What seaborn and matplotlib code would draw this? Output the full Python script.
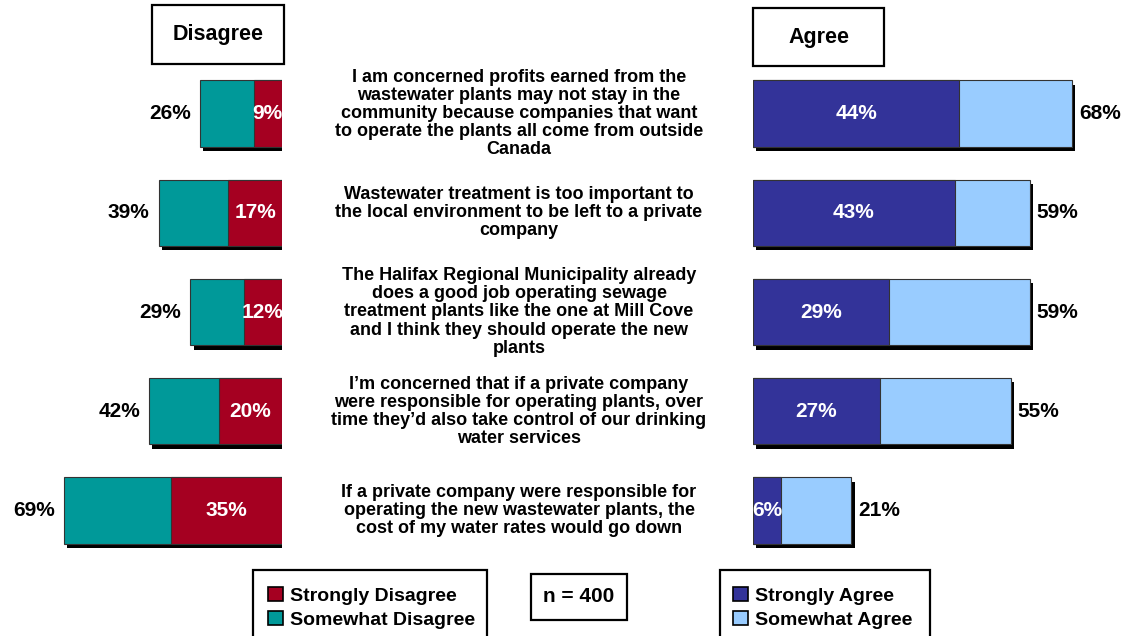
import matplotlib

matplotlib.use("Agg")
import matplotlib.pyplot as plt
import matplotlib.patheffects as path_effects
from matplotlib.patches import Patch, Rectangle
from matplotlib.transforms import blended_transform_factory
import seaborn as sns
import pandas as pd

row_ids = ["profits", "environment", "hrm", "control", "rates"]
statements = [
    "I am concerned profits earned from the\nwastewater plants may not stay in the\n"
    "community because companies that want\nto operate the plants all come from outside\nCanada",
    "Wastewater treatment is too important to\nthe local environment to be left to a private\ncompany",
    "The Halifax Regional Municipality already\ndoes a good job operating sewage\n"
    "treatment plants like the one at Mill Cove\nand I think they should operate the new\nplants",
    "I\u2019m concerned that if a private company\nwere responsible for operating plants, over\n"
    "time they\u2019d also take control of our drinking\nwater services",
    "If a private company were responsible for\noperating the new wastewater plants, the\n"
    "cost of my water rates would go down",
]
disagree_total = [26, 39, 29, 42, 69]
disagree_strong = [9, 17, 12, 20, 35]
agree_total = [68, 59, 59, 55, 21]
agree_strong = [44, 43, 29, 27, 6]

color_rojo = "#A50021"
color_verde = "#009999"
color_azul = "#333399"
color_celeste = "#99CCFF"

sns.set_theme(style="white")
plt.rcParams["font.family"] = ["Liberation Sans", "DejaVu Sans"]
plt.rcParams["font.weight"] = "bold"
plt.rcParams["text.color"] = "black"

df = pd.DataFrame(
    {
        "fila": row_ids,
        "dis_total": disagree_total,
        "dis_fuerte": disagree_strong,
        "ag_total": agree_total,
        "ag_fuerte": agree_strong,
    }
)

W, H = 1130, 636
fig = plt.figure(figsize=(W / 100, H / 100), dpi=100)
fig.patch.set_facecolor("white")


def caja_px(x0, x1, y0, y1):
    return [x0 / W, 1 - y1 / H, (x1 - x0) / W, (y1 - y0) / H]


ax_izq = fig.add_axes(caja_px(0, 282, 64, 560))
ax_der = fig.add_axes(caja_px(753, 1130, 64, 560))

sombra = [
    path_effects.withSimplePatchShadow(
        offset=(2.3, -3.2), shadow_rgbFace="black", alpha=1.0
    )
]

paneles = [
    (ax_izq, "dis_total", "dis_fuerte", color_verde, color_rojo, (89.2, 0), 6.5),
    (ax_der, "ag_total", "ag_fuerte", color_celeste, color_azul, (0, 80.4), 5),
]

for ax, col_total, col_fuerte, c_total, c_fuerte, limites, pad in paneles:
    sns.barplot(
        data=df, x=col_total, y="fila", color=c_total, saturation=1,
        width=0.67, edgecolor="#333333", linewidth=0.8, errorbar=None, ax=ax,
    )
    for barra in ax.patches:
        barra.set_path_effects(sombra)
    sns.barplot(
        data=df, x=col_fuerte, y="fila", color=c_fuerte, saturation=1,
        width=0.67, edgecolor="#333333", linewidth=0.8, errorbar=None, ax=ax,
    )
    ax.set_xlim(*limites)
    ax.set_ylim(len(row_ids) - 0.5, -0.5)
    ax.bar_label(
        ax.containers[0], fmt="%.0f%%", padding=pad,
        fontsize=15, fontweight="bold", color="black",
    )
    ax.bar_label(
        ax.containers[1], fmt="%.0f%%", label_type="center",
        fontsize=15, fontweight="bold", color="white",
    )
    ax.set_axis_off()

# textos centrales
trans = blended_transform_factory(fig.transFigure, ax_izq.transData)
for i, texto in enumerate(statements):
    fig.text(
        519 / W, i, texto, transform=trans, ha="center", va="center",
        fontsize=13, fontweight="bold", linespacing=1.08, color="black",
    )

# cajas de encabezado
for (x0, x1, y0, y1), titulo in [
    ((152, 284, 5, 64), "Disagree"),
    ((753, 884, 8, 66), "Agree"),
]:
    b = caja_px(x0, x1, y0, y1)
    fig.patches.append(
        Rectangle((b[0], b[1]), b[2], b[3], transform=fig.transFigure,
                  facecolor="white", edgecolor="black", linewidth=1.6)
    )
    fig.text(b[0] + b[2] / 2, b[1] + b[3] / 2, titulo, ha="center", va="center",
             fontsize=15.5, fontweight="bold", color="black")

# leyendas
for (x0, x1, y0, y1) in [(253, 487, 570, 660), (720, 930, 570, 660), (531, 627, 574, 620)]:
    b = caja_px(x0, x1, y0, y1)
    fig.patches.append(
        Rectangle((b[0], b[1]), b[2], b[3], transform=fig.transFigure,
                  facecolor="white", edgecolor="black", linewidth=1.6, clip_on=False)
    )
b = caja_px(531, 627, 574, 620)
fig.text(b[0] + b[2] / 2, b[1] + b[3] / 2, "n = 400", ha="center", va="center",
         fontsize=15, fontweight="bold", color="black")

for x_ancla, etiquetas, colores in [
    (268, ["Strongly Disagree", "Somewhat Disagree"], [color_rojo, color_verde]),
    (733, ["Strongly Agree", "Somewhat Agree"], [color_azul, color_celeste]),
]:
    manejadores = [Patch(facecolor=c, edgecolor="black", linewidth=1.2) for c in colores]
    leyenda = fig.legend(
        manejadores, etiquetas, loc="upper left",
        bbox_to_anchor=(x_ancla / W, 1 - 587 / H), frameon=False,
        prop={"size": 14, "weight": "bold"}, handlelength=0.75, handleheight=0.75,
        handletextpad=0.4, labelspacing=0.3, borderpad=0, borderaxespad=0,
    )
    for t in leyenda.get_texts():
        t.set_color("black")

plt.savefig("out.png", dpi=100, facecolor=fig.get_facecolor())
plt.close(fig)
